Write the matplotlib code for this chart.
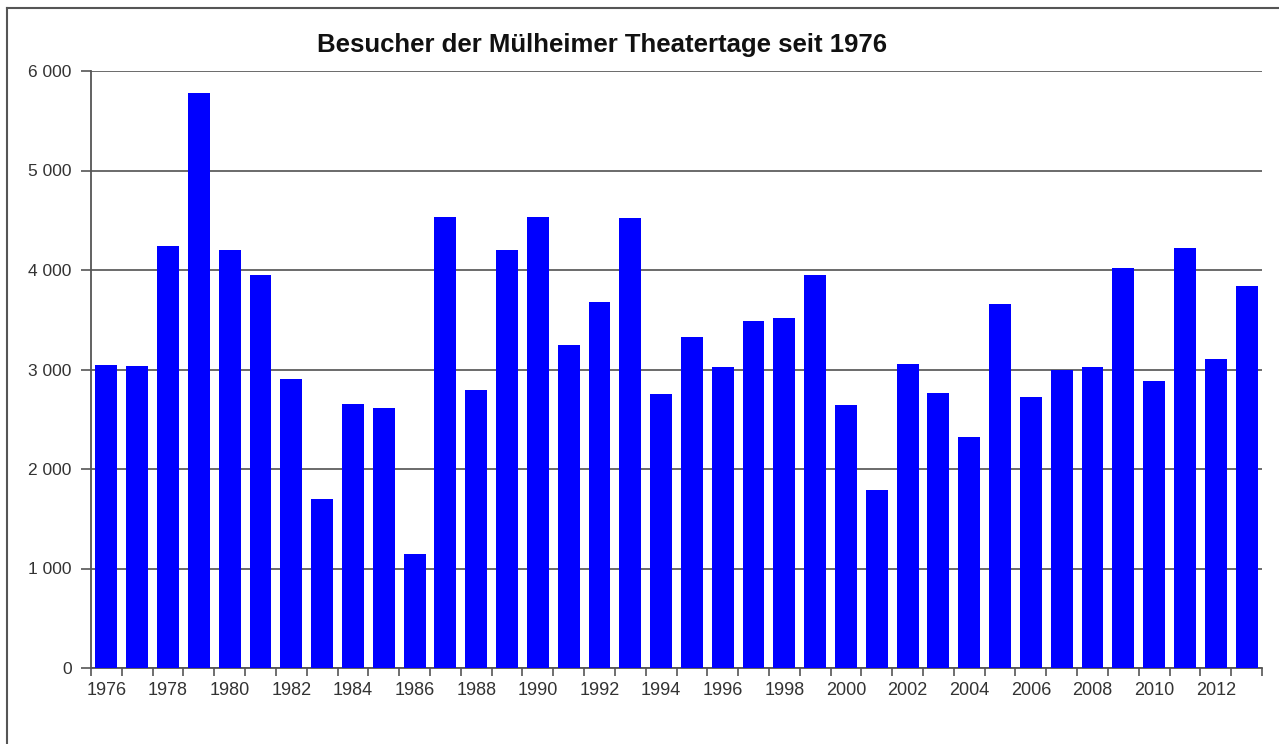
import matplotlib
matplotlib.use("Agg")
import matplotlib.pyplot as plt
from matplotlib.lines import Line2D
from matplotlib.ticker import FuncFormatter, FixedLocator, NullFormatter

years = list(range(1976, 2014))
visitors = [3050, 3035, 4240, 5775, 4200, 3945, 2905, 1700, 2658, 2618,
            1143, 4535, 2795, 4200, 4535, 3250, 3675, 4518, 2755, 3330,
            3022, 3490, 3518, 3945, 2643, 1785, 3056, 2761, 2320, 3658,
            2721, 3000, 3022, 4025, 2880, 4226, 3109, 3838]
label_years = years[::2]
title = "Besucher der Mülheimer Theatertage seit 1976"
yticks = [0, 1000, 2000, 3000, 4000, 5000, 6000]

plt.rcParams['font.family'] = ['Liberation Sans', 'DejaVu Sans']

W, H = 1279, 744
fig = plt.figure(figsize=(W / 100, H / 100), dpi=100)
left, right, top, bottom = 91, 1262, 71, 668
ax = fig.add_axes([left / W, 1 - bottom / H, (right - left) / W, (bottom - top) / H])

x = list(range(len(years)))
ax.bar(x, visitors, width=0.71, color='#0000ff', zorder=3)

ax.set_xlim(-0.5, len(years) - 0.5)
ax.set_ylim(0, 6000)

ax.set_yticks(yticks)
ax.yaxis.set_major_formatter(FuncFormatter(lambda v, p: f"{int(v):,}".replace(",", " ")))
ax.grid(axis='y', color='#6a6a6a', linewidth=1.4, zorder=1)

# x ticks at category boundaries, labels centered under every second bar
ax.xaxis.set_major_locator(FixedLocator([i - 0.5 for i in range(len(years) + 1)]))
ax.xaxis.set_major_formatter(NullFormatter())
ax.xaxis.set_minor_locator(FixedLocator([years.index(y) for y in label_years]))
ax.set_xticklabels([str(y) for y in label_years], minor=True)
ax.tick_params(axis='x', which='major', length=6, width=1.2, color='#555555', direction='out')
ax.tick_params(axis='x', which='minor', length=0, pad=10, labelsize=13, labelcolor='#333333')
ax.tick_params(axis='y', length=7, width=1.2, color='#555555', direction='out', pad=7,
               labelsize=12.5, labelcolor='#333333')

for s in ['top', 'right']:
    ax.spines[s].set_visible(False)
for s in ['left', 'bottom']:
    ax.spines[s].set_color('#555555')
    ax.spines[s].set_linewidth(1.3)

fig.text(602 / W, 1 - 45 / H, title, ha='center', va='center', fontsize=18.5,
         fontweight='bold', color='#111111')

# outer chart frame
fc = '#555555'
fig.add_artist(Line2D([7 / W, 7 / W], [0, 1 - 8 / H], color=fc, lw=1.5, transform=fig.transFigure))
fig.add_artist(Line2D([7 / W, 1], [1 - 8 / H, 1 - 8 / H], color=fc, lw=1.5, transform=fig.transFigure))

fig.savefig("out.png", dpi=100)
